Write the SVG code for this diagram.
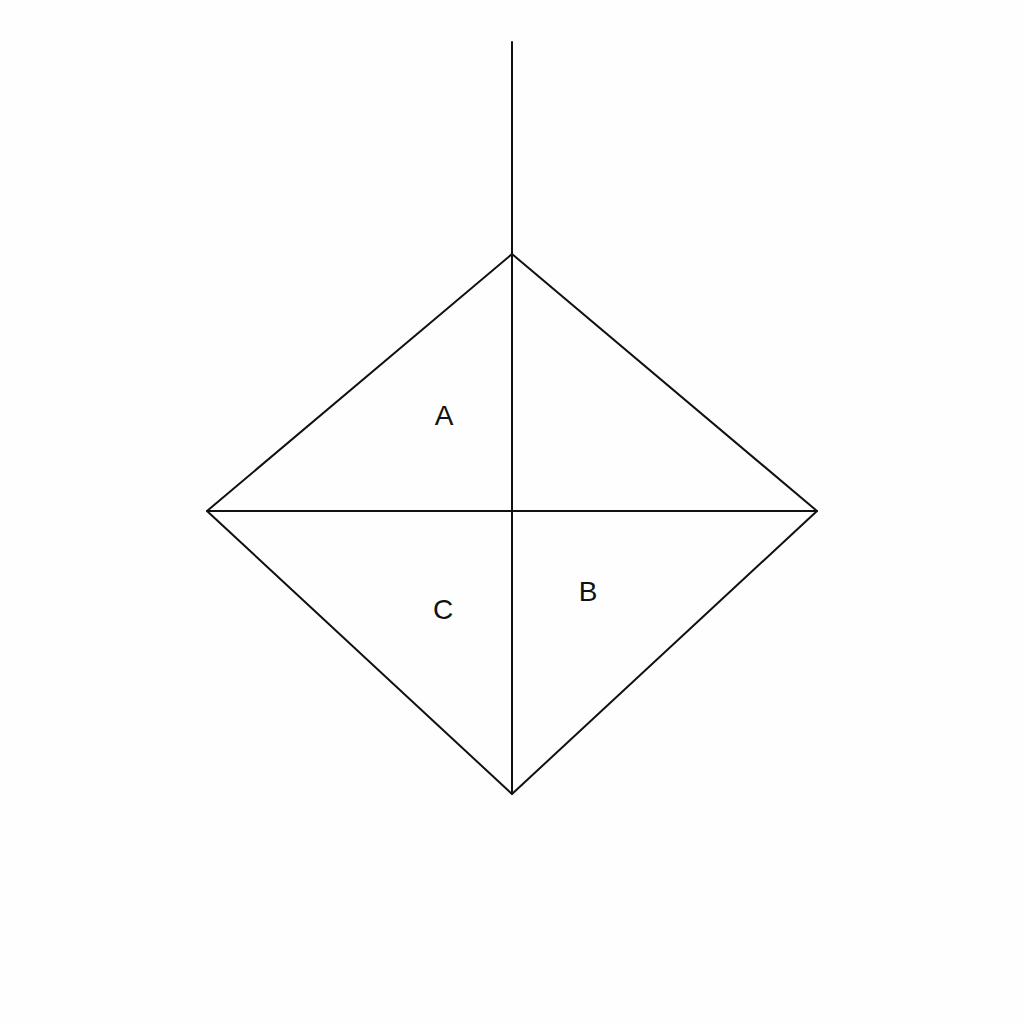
<svg xmlns="http://www.w3.org/2000/svg" width="1024" height="1024" viewBox="0 0 1024 1024">
<style>
.l{stroke:#111;stroke-width:2;fill:none;stroke-linecap:round;stroke-linejoin:round}
.t{font-family:"Liberation Sans",Arial,sans-serif;font-size:28px;fill:#111;text-anchor:middle;dominant-baseline:central}
</style>
<rect width="1024" height="1024" fill="#fefefe"/>
<g id="shape">
<polygon class="l" points="512,254 817,511 512,794 207,511"/>
<line class="l" x1="512" y1="42" x2="512" y2="794"/>
<line class="l" x1="207" y1="511" x2="817" y2="511"/>
</g>
<g id="labels">
<text class="t" x="444" y="415">A</text>
<text class="t" x="588" y="591">B</text>
<text class="t" x="443" y="609">C</text>
</g>
</svg>
